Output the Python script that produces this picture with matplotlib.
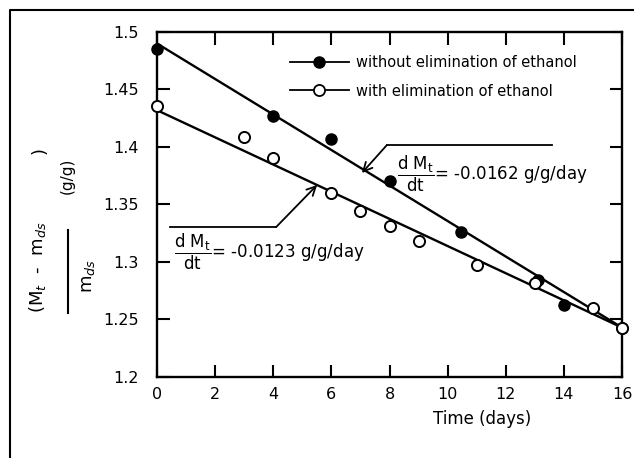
import matplotlib
matplotlib.use('Agg')
import matplotlib.pyplot as plt
from matplotlib.lines import Line2D

# Drying data (time in days, ratio in g/g)
days_without = [0, 4, 6, 8, 10.45, 13.1, 14, 16]
ratio_without = [1.485, 1.427, 1.407, 1.370, 1.326, 1.284, 1.263, 1.243]

days_with = [0, 3, 4, 6, 7, 8, 9, 11, 13, 15, 16]
ratio_with = [1.436, 1.409, 1.390, 1.360, 1.344, 1.331, 1.318, 1.297,
              1.282, 1.260, 1.243]

# Fitted straight lines (end points)
fit_days = [0, 16]
fit_without = [1.490, 1.243]
fit_with = [1.432, 1.243]

slope_without = '-0.0162'
slope_with = '-0.0123'

label_without = 'without elimination of ethanol'
label_with = 'with elimination of ethanol'

x_ticks = [0, 2, 4, 6, 8, 10, 12, 14, 16]
y_ticks = [1.2, 1.25, 1.3, 1.35, 1.4, 1.45, 1.5]

plt.rcParams['font.family'] = 'DejaVu Sans'
plt.rcParams['mathtext.fontset'] = 'dejavusans'

fig = plt.figure(figsize=(6.34, 4.58), dpi=100)
ax = fig.add_axes([157 / 634, 1 - 377 / 458, 465 / 634, 345 / 458])

# Fit lines
ax.plot(fit_days, fit_without, color='black', lw=1.7, clip_on=False)
ax.plot(fit_days, fit_with, color='black', lw=1.7, clip_on=False)

# Data points
ax.plot(days_without, ratio_without, 'o', color='black', ms=8,
        clip_on=False, zorder=5)
ax.plot(days_with, ratio_with, 'o', mfc='white', mec='black', mew=1.4,
        ms=8, clip_on=False, zorder=5)

ax.set_xlim(0, 16)
ax.set_ylim(1.2, 1.5)
ax.set_xticks(x_ticks)
ax.set_yticks(y_ticks)
ax.set_yticklabels(['%g' % v for v in y_ticks])
ax.tick_params(direction='in', length=9, width=1.5, top=True, right=True,
               labelsize=11.5)
ax.tick_params(axis='x', pad=7)
ax.tick_params(axis='y', pad=13)
for s in ax.spines.values():
    s.set_linewidth(1.7)

ax.set_xlabel('Time (days)', fontsize=12)
ax.xaxis.set_label_coords(0.70, -0.095)

# Legend with line-marker-line samples
handles = [
    Line2D([], [], color='black', lw=1.3, marker='o', ms=8),
    Line2D([], [], color='black', lw=1.3, marker='o', mfc='white', mew=1.3,
           ms=8),
]
ax.legend(handles, [label_without, label_with], loc='upper left',
          bbox_to_anchor=(0.285, 0.932), frameon=False, fontsize=10.5,
          handlelength=4.1, handletextpad=0.45, labelspacing=0.9,
          borderpad=0, borderaxespad=0)

# Slope annotations: horizontal leader then arrow onto the line
ax.plot([13.6, 7.91], [1.4017, 1.4017], color='black', lw=1.3)
ax.annotate('', xy=(7.05, 1.3774), xytext=(7.91, 1.4017),
            arrowprops=dict(arrowstyle='->', lw=1.3, color='black',
                            shrinkA=0, shrinkB=0, mutation_scale=16))
ax.text(8.25, 1.3765,
        r'$\dfrac{\mathrm{d\ M_t}}{\mathrm{dt}}$= ' + slope_without
        + ' g/g/day', fontsize=12, va='center', ha='left')

ax.plot([0.45, 4.10], [1.3304, 1.3304], color='black', lw=1.3)
ax.annotate('', xy=(5.51, 1.367), xytext=(4.10, 1.3304),
            arrowprops=dict(arrowstyle='->', lw=1.3, color='black',
                            shrinkA=0, shrinkB=0, mutation_scale=16))
ax.text(0.6, 1.3087,
        r'$\dfrac{\mathrm{d\ M_t}}{\mathrm{dt}}$= ' + slope_with
        + ' g/g/day', fontsize=12, va='center', ha='left')

# Y label built from pieces, as in the original
W, H = 634.0, 458.0
fig.text(37 / W, 1 - 267 / H, r'(M$_t$  -  m$_{ds}$', rotation=90,
         fontsize=13, ha='center', va='center')
fig.text(40 / W, 1 - 151 / H, ')', rotation=90, fontsize=13,
         ha='center', va='center')
fig.add_artist(Line2D([68 / W, 68 / W], [1 - 313 / H, 1 - 230 / H],
                      color='black', lw=1.5, transform=fig.transFigure))
fig.text(88 / W, 1 - 276 / H, r'm$_{ds}$', rotation=90, fontsize=13,
         ha='center', va='center')
fig.text(67 / W, 1 - 176 / H, '(g/g)', rotation=90, fontsize=11,
         ha='center', va='center')

# Outer frame (left and top only)
fig.add_artist(Line2D([10 / W, 10 / W, 1.0], [0.0, 1 - 10 / H, 1 - 10 / H],
                      color='black', lw=1.5, transform=fig.transFigure))

plt.savefig('out.png', dpi=100)
plt.close()
